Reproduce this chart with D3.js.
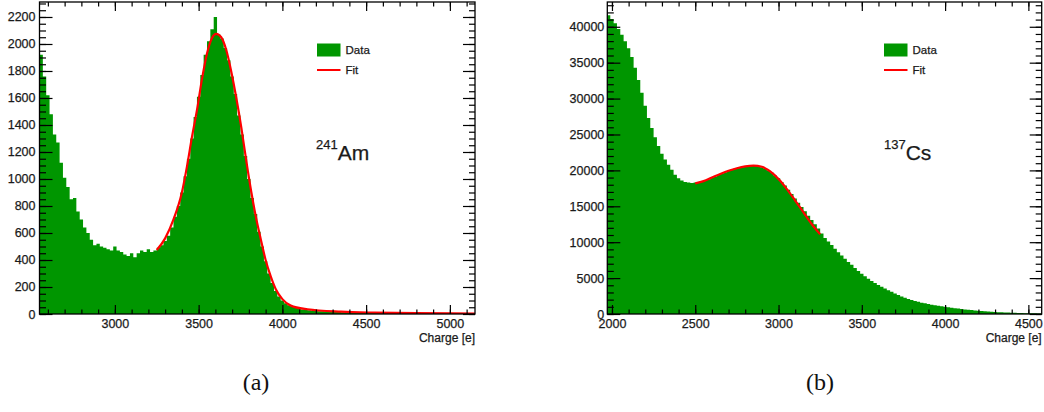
<!DOCTYPE html>
<html>
<head>
<meta charset="utf-8">
<script src="https://cdn.jsdelivr.net/npm/d3@7"></script>
<style>
  body { margin: 0; background: #fff; }
  svg text { font-family: "Liberation Sans", Arial, sans-serif; fill: #1a1a1a; stroke: #1a1a1a; stroke-width: 0.25px; }
  svg text.caption { stroke: none; fill: #111; }
</style>
</head>
<body>
<svg id="chart"></svg>
<script>
const width = 1044, height = 412;

// (a) 241Am spectrum, 20 e bins starting at 2550
const amBinStart = 2550, amBinWidth = 20;
const amCounts = [
  1920, 1760, 1620, 1480, 1330, 1270, 1120, 1010, 940, 850,
  860, 760, 700, 640, 600, 550, 510, 520, 500, 490,
  480, 470, 500, 470, 460, 440, 430, 450, 420, 450,
  470, 460, 480, 460, 470, 490, 510,
  540, 580, 640, 720, 800, 900, 1020, 1150, 1300, 1460,
  1610, 1770, 1920, 2020, 2110, 2200, 2070, 2040, 1970, 1880,
  1760, 1630, 1470, 1330, 1170, 1000, 860, 740, 610, 500,
  390, 300, 230, 170, 130, 100, 80,
  65, 55, 45, 38, 33, 30, 27, 25, 23, 21,
  20, 18, 17, 16, 15, 14, 13, 12, 12, 11,
  11, 10, 10, 9, 9, 8, 8, 8, 7, 7,
  7, 6, 6, 6, 6, 5, 5, 5, 5, 5,
  4, 4, 4, 4, 4, 4, 3, 3, 3, 3,
  3, 3, 3, 3, 2, 2
];
const amFitCharge = [3250, 3300, 3350, 3400, 3430, 3460, 3490, 3520, 3550, 3580, 3605, 3635, 3665, 3695,
  3725, 3755, 3785, 3815, 3845, 3870, 3900, 3930, 3960, 4000, 4050, 4150, 4350, 4550, 4800, 5150];
const amFitCounts = [474, 560, 700, 900, 1090, 1310, 1510, 1740, 1930, 2045, 2075, 2050, 1955, 1795,
  1600, 1380, 1130, 900, 700, 560, 400, 280, 185, 110, 62, 35, 17, 10, 6, 3];

// (b) 137Cs spectrum, 20 e bins starting at 1970
const csBinStart = 1970, csBinWidth = 20;
const csCounts = [
  41600, 41100, 40500, 39700, 38900, 38000, 37000, 35800, 34300, 32600,
  30800, 29000, 27300, 25900, 24600, 23400, 22300, 21500, 20800, 20100,
  19400, 18900, 18600, 18400, 18300, 18250, 18300,
  18300, 18400, 18550, 18750, 18950, 19150, 19350, 19550, 19750, 19950,
  20100, 20250, 20350, 20450, 20550, 20600, 20650, 20650, 20600, 20450,
  20250, 20000, 19700, 19300, 18900, 18400, 17900, 17300, 16700, 16100,
  15500, 14900, 14300, 13700, 13100, 12500, 11900, 11200,
  10600, 10100, 9600, 9100, 8600, 8150, 7700, 7250, 6850, 6400,
  6000, 5600, 5250, 4900, 4600, 4300, 4050, 3800, 3550, 3300,
  3100, 2850, 2650, 2450, 2250, 2100, 1950, 1800, 1700, 1580,
  1480, 1380, 1300, 1220, 1150, 1080, 1020, 950, 880, 810,
  750, 690, 640, 590, 540, 500, 460, 420, 380, 350,
  320, 290, 260, 240, 220, 200, 180, 165, 150, 135,
  120, 110, 100, 90, 85, 80
];
const csFitCharge = [2500, 2550, 2600, 2650, 2700, 2750, 2800, 2850, 2900, 2950, 3000, 3050, 3100, 3150, 3200, 3250];
const csFitCounts = [18200, 18500, 19000, 19500, 19950, 20300, 20550, 20650, 20500, 19850, 18800, 17400, 15800, 14150, 12500, 11100];

const legendLabels = ["Data", "Fit"];
const xTitle = "Charge [e]";

const green = "#009600", red = "#ff0000";

const panels = [
  {
    id: "am", caption: "(a)", isoMass: "241", isoName: "Am",
    binStart: amBinStart, binWidth: amBinWidth, counts: amCounts,
    fitX: amFitCharge, fitY: amFitCounts,
    left: 39.5, right: 475, xDomain: [2550, 5150], yMax: 2311,
    xMajor: 500, xMinor: 100, yMajor: 200, yMinor: 50, yPad: 4,
    legendX: 317, isoX: 316, captionX: 256
  },
  {
    id: "cs", caption: "(b)", isoMass: "137", isoName: "Cs",
    binStart: csBinStart, binWidth: csBinWidth, counts: csCounts,
    fitX: csFitCharge, fitY: csFitCounts,
    left: 607.3, right: 1041.7, xDomain: [1972, 4580], yMax: 43450,
    xMajor: 500, xMinor: 100, yMajor: 5000, yMinor: 1000, yPad: 3,
    legendX: 884, isoX: 884, captionX: 820
  }
];

const plotTop = 2, plotBottom = 314;

const svg = d3.select("#chart")
  .attr("width", width)
  .attr("height", height);

panels.forEach(p => {
  const x = d3.scaleLinear().domain(p.xDomain).range([p.left, p.right]);
  const y = d3.scaleLinear().domain([0, p.yMax]).range([plotBottom, plotTop]);
  const g = svg.append("g");

  g.append("clipPath").attr("id", "clip-" + p.id)
    .append("rect")
    .attr("x", p.left).attr("y", plotTop)
    .attr("width", p.right - p.left).attr("height", plotBottom - plotTop);

  // histogram as a stepped area
  const pts = p.counts.map((c, i) => [p.binStart + i * p.binWidth, c]);
  pts.push([p.binStart + p.counts.length * p.binWidth, p.counts[p.counts.length - 1]]);
  const area = d3.area()
    .x(d => x(d[0]))
    .y0(y(0))
    .y1(d => y(d[1]))
    .curve(d3.curveStepAfter);
  g.append("path")
    .datum(pts)
    .attr("clip-path", "url(#clip-" + p.id + ")")
    .attr("fill", green)
    .attr("d", area);

  // fit curve
  const line = d3.line()
    .x(d => x(d[0]))
    .y(d => y(d[1]))
    .curve(d3.curveMonotoneX);
  g.append("path")
    .datum(p.fitX.map((v, i) => [v, p.fitY[i]]))
    .attr("clip-path", "url(#clip-" + p.id + ")")
    .attr("fill", "none")
    .attr("stroke", red)
    .attr("stroke-width", 2.2)
    .attr("d", line);

  // frame
  g.append("rect")
    .attr("x", p.left).attr("y", plotTop)
    .attr("width", p.right - p.left).attr("height", plotBottom - plotTop)
    .attr("fill", "none").attr("stroke", "#000").attr("stroke-width", 1.3);

  const xMajorVals = d3.range(Math.ceil(p.xDomain[0] / p.xMajor) * p.xMajor, p.xDomain[1] + 1, p.xMajor);
  const xMinorVals = d3.range(Math.ceil(p.xDomain[0] / p.xMinor) * p.xMinor, p.xDomain[1] + 1, p.xMinor);
  const yMajorVals = d3.range(0, p.yMax + 1, p.yMajor);
  const yMinorVals = d3.range(0, p.yMax + 1, p.yMinor);

  const styleAxis = sel => {
    sel.select(".domain").remove();
    sel.selectAll("line").attr("stroke", "#000").attr("stroke-width", 1.2);
    sel.selectAll("text").style("font-size", "12.5px");
  };

  // bottom axis with labels
  g.append("g").attr("transform", `translate(0,${plotBottom})`)
    .call(d3.axisBottom(x).tickValues(xMinorVals).tickSize(-4.5).tickFormat(""))
    .call(styleAxis);
  g.append("g").attr("transform", `translate(0,${plotBottom})`)
    .call(d3.axisBottom(x).tickValues(xMajorVals).tickSize(-9).tickPadding(5).tickFormat(d3.format("d")))
    .call(styleAxis);
  // top mirrored ticks
  g.append("g").attr("transform", `translate(0,${plotTop})`)
    .call(d3.axisBottom(x).tickValues(xMinorVals).tickSize(4.5).tickFormat(""))
    .call(styleAxis);
  g.append("g").attr("transform", `translate(0,${plotTop})`)
    .call(d3.axisBottom(x).tickValues(xMajorVals).tickSize(9).tickFormat(""))
    .call(styleAxis);

  // left axis with labels
  g.append("g").attr("transform", `translate(${p.left},0)`)
    .call(d3.axisLeft(y).tickValues(yMinorVals).tickSize(-6.5).tickFormat(""))
    .call(styleAxis);
  g.append("g").attr("transform", `translate(${p.left},0)`)
    .call(d3.axisLeft(y).tickValues(yMajorVals).tickSize(-13).tickPadding(p.yPad).tickFormat(d3.format("d")))
    .call(styleAxis);
  // right mirrored ticks
  g.append("g").attr("transform", `translate(${p.right},0)`)
    .call(d3.axisRight(y).tickValues(yMinorVals).tickSize(-6).tickFormat(""))
    .call(styleAxis);
  g.append("g").attr("transform", `translate(${p.right},0)`)
    .call(d3.axisRight(y).tickValues(yMajorVals).tickSize(-12).tickFormat(""))
    .call(styleAxis);

  // axis title
  g.append("text")
    .attr("x", p.right).attr("y", 342)
    .attr("text-anchor", "end")
    .style("font-size", "12px")
    .text(xTitle);

  // legend
  const lg = g.append("g").attr("transform", `translate(${p.legendX},0)`);
  lg.append("rect").attr("x", 0).attr("y", 43.5).attr("width", 23.5).attr("height", 13).attr("fill", green);
  lg.append("line").attr("x1", 0).attr("x2", 23.5).attr("y1", 70).attr("y2", 70)
    .attr("stroke", red).attr("stroke-width", 2);
  lg.selectAll("text.leg").data(legendLabels).enter().append("text")
    .attr("class", "leg")
    .attr("x", 28.5)
    .attr("y", (d, i) => 54 + i * 20)
    .style("font-size", "11.5px")
    .text(d => d);

  // isotope label
  const iso = g.append("text").attr("x", p.isoX).attr("y", 159.5);
  iso.append("tspan").attr("dy", -11).style("font-size", "13px").text(p.isoMass);
  iso.append("tspan").attr("dy", 11).style("font-size", "21px").text(p.isoName);

  // caption
  g.append("text")
    .attr("class", "caption")
    .attr("x", p.captionX).attr("y", 390)
    .attr("text-anchor", "middle")
    .style("font-family", "'Liberation Serif', 'Times New Roman', serif")
    .style("font-size", "24px")
    .text(p.caption);
});
</script>
</body>
</html>
